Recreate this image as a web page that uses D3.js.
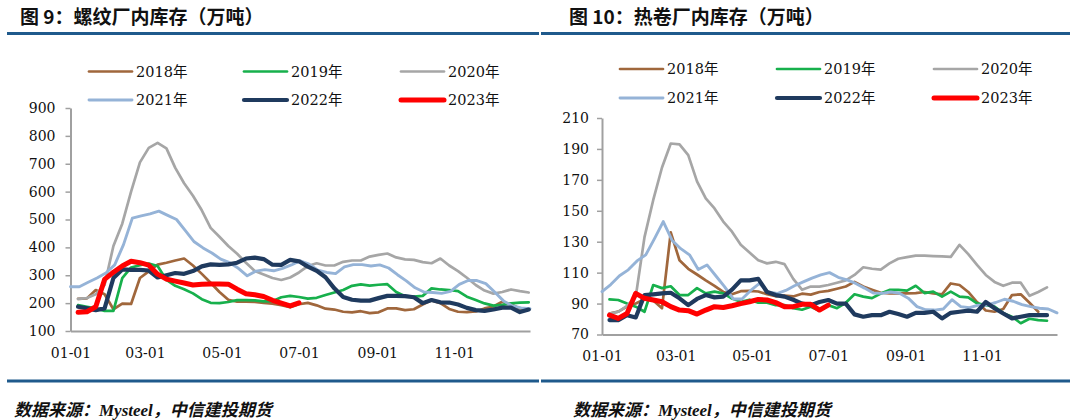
<!DOCTYPE html>
<html>
<head>
<meta charset="UTF-8">
<script src="https://d3js.org/d3.v7.min.js"></script>
<style>
  body { margin: 0; background: #fff; }
  svg { display: block; }
</style>
</head>
<body>
<div id="chart"></div>
<script>

// legend names and the first weekly reading of each year (month-day)
const years = ["2018年", "2019年", "2020年", "2021年", "2022年", "2023年"];
const firstDates = ["01-07", "01-07", "01-07", "01-01", "01-07", "01-07"];

// 螺纹 factory inventory, 万吨, weekly
const rebar2018 = [215, 217, 247, 232, 178, 198, 197, 290, 314, 338, 345, 353, 360, 335, 305, 273, 240, 212, 205, 205, 204, 201, 198, 193, 185,
  196, 201, 192, 180, 177, 169, 167, 171, 164, 167, 181, 181, 175, 178, 195, 210, 200, 179, 169, 168, 170, 181, 188, 205, 195, 181, 178];
const rebar2019 = [193, 187, 181, 172, 172, 290, 328, 336, 342, 333, 283, 262, 250, 235, 214, 201, 200, 204, 211, 211, 210, 206, 207, 221, 226,
  222, 216, 219, 229, 238, 247, 262, 267, 263, 266, 268, 240, 225, 223, 226, 253, 249, 247, 243, 223, 211, 199, 191, 194, 199, 202, 203];
const rebar2020 = [215, 218, 232, 265, 405, 485, 600, 705, 757, 775, 755, 685, 630, 585, 533, 470, 438, 405, 377, 345, 315, 303, 290, 283, 292,
  310, 333, 343, 335, 335, 348, 353, 353, 367, 373, 378, 364, 357, 355, 347, 343, 360, 335, 315, 291, 265, 245, 234, 240, 249, 243, 238];
const rebar2021 = [259, 259, 275, 290, 308, 337, 410, 505, 513, 520, 530, 515, 500, 460, 420, 398, 380, 358, 345, 325, 298, 315, 320, 316, 325, 337,
  352, 340, 318, 310, 306, 330, 338, 338, 333, 337, 326, 302, 280, 255, 240, 238, 235, 242, 267, 281, 281, 270, 240, 208, 190, 183, 180];
const rebar2022 = [187, 181, 175, 181, 290, 321, 319, 319, 317, 292, 300, 308, 305, 315, 332, 339, 337, 339, 345, 360, 363, 358, 338, 337, 355,
  350, 331, 316, 293, 253, 222, 212, 209, 209, 218, 226, 226, 225, 221, 200, 211, 203, 202, 195, 183, 175, 172, 177, 184, 184, 168, 177];
const rebar2023 = [167, 169, 187, 285, 311, 333, 350, 345, 336, 304, 286, 279, 272, 265, 268, 269, 269, 268, 250, 234, 230, 224, 210, 200, 190, 201];

// 热卷 factory inventory, 万吨, weekly
const hrc2018 = [83.6, 84.8, 88, 90, 92.8, 92, 87, 136, 118, 112.5, 108.8, 105, 101.5, 97.5, 96, 98, 98.2, 97.8, 96, 94.7, 95.2, 94.6, 96.4, 95.8, 97.5,
  98.2, 99.6, 101, 104, 101, 99, 97, 96.6, 96.6, 96.6, 96.8, 97.5, 96.6, 96, 103, 102, 97.5, 91, 85.5, 84.7, 86.5, 95.5, 96, 90.5, 84.7];
const hrc2019 = [92.7, 92.3, 90, 88, 84.7, 102, 100, 101.2, 95.5, 95.5, 100, 96.6, 97.7, 96.6, 93.3, 91.2, 92.5, 90.6, 90.6, 89, 89, 87, 86, 88, 85.4,
  89, 87, 90.5, 96, 94.5, 93.5, 96.5, 98.8, 98.8, 98.4, 101.5, 96.8, 97.7, 94.5, 97.7, 94.5, 94, 90.2, 89, 88, 83.8, 81.5, 77.3, 80.2, 79.3, 78.9];
const hrc2020 = [83.6, 84.7, 88.5, 94.5, 133, 157, 178, 193.5, 193, 186, 169, 158, 151.5, 143, 136.5, 128, 123, 118, 116, 117, 115.5, 106, 99, 101, 101,
  102, 103.5, 105, 108.5, 113.5, 112.5, 112, 116, 119, 120, 121, 121, 120.7, 120.5, 120.2, 128, 122, 115, 108.5, 104, 101.5, 103.5, 103.5, 95, 97.5, 100.5];
const hrc2021 = [97.7, 102.3, 108, 111.8, 117.6, 121.5, 132, 143, 131, 125.5, 121.5, 112, 115, 108, 101, 93, 93, 98.5, 103, 97.5, 96.5, 98.5, 101.5, 104, 106.5, 108.5,
  110, 107, 105.3, 103, 100, 96.8, 96.6, 97.5, 96.7, 93.5, 88, 86, 85.8, 86.5, 92.5, 88, 87.3, 89, 89, 90.7, 92.8, 91.5, 89.3, 88, 87, 86.5, 84];
const hrc2022 = [79.3, 79.3, 82.5, 81, 95.5, 96, 96.6, 97, 93.4, 89, 93, 95.5, 94, 94.5, 99, 105, 105, 106, 97.5, 95.5, 94.5, 92.5, 90, 89, 91,
  92.3, 90, 90, 83, 81.5, 82.5, 82.5, 84.7, 83.2, 81.5, 84, 84, 84.7, 80.4, 84, 84.7, 85.4, 84.7, 91, 87, 83.6, 80.4, 81.5, 82.5, 82.5, 82.5];
const hrc2023 = [82.5, 80.4, 83.6, 96.6, 93.4, 92.3, 91.2, 88, 85.8, 85.4, 83.2, 85.8, 88, 87.5, 88.6, 90, 91.2, 92.7, 92.3, 90.6, 88, 88, 89.5, 89.5, 85.8, 89];

const xTickLabels = ["01-01", "03-01", "05-01", "07-01", "09-01", "11-01"];
const rebarTicks = [100, 200, 300, 400, 500, 600, 700, 800, 900];
const hrcTicks = [70, 90, 110, 130, 150, 170, 190, 210];

const colors = ["#a0673c", "#17b04c", "#a6a6a6", "#95b3d7", "#1f3a5e", "#ff0000"];
const widths = [2.7, 2.7, 2.7, 2.9, 4.2, 5];

const numFont = "'DejaVu Serif', 'Noto Sans CJK SC', serif";
const parseMD = d3.timeParse("%m-%d");

const svg = d3.select("#chart").append("svg")
  .attr("width", 1080)
  .attr("height", 420);

function weekly(first, values) {
  const t0 = parseMD(first);
  return values.map((v, i) => ({ date: d3.timeDay.offset(t0, 7 * i), value: v }));
}

function panel(o) {
  const g = svg.append("g");

  // title and rules
  g.append("text")
    .attr("x", o.titleX).attr("y", 24)
    .attr("font-family", "'Noto Sans CJK SC', sans-serif")
    .attr("font-weight", "bold").attr("font-size", 19)
    .attr("fill", "#111")
    .text(o.title);
  g.append("line")
    .attr("x1", o.ruleX[0]).attr("x2", o.ruleX[1])
    .attr("y1", 33.5).attr("y2", 33.5)
    .attr("stroke", "#1f5a8c").attr("stroke-width", 3);
  g.append("line")
    .attr("x1", o.ruleX[0]).attr("x2", o.ruleX[1])
    .attr("y1", 381).attr("y2", 381)
    .attr("stroke", "#1f5a8c").attr("stroke-width", 3);
  g.append("text")
    .attr("x", o.srcX).attr("y", 416)
    .attr("font-family", "'Liberation Serif', 'Noto Sans CJK SC', serif")
    .attr("font-weight", "bold").attr("font-style", "italic").attr("font-size", 17)
    .attr("fill", "#111")
    .text("数据来源：Mysteel，中信建投期货");

  const x = d3.scaleTime()
    .domain([parseMD("01-01"), parseMD("12-31")])
    .range(o.xRange);
  const y = d3.scaleLinear()
    .domain(d3.extent(o.yTicks))
    .range(o.yRange);

  const yAxis = g.append("g")
    .attr("transform", `translate(${o.xRange[0]},0)`)
    .call(d3.axisLeft(y).tickValues(o.yTicks).tickSize(5).tickSizeOuter(0).tickPadding(o.yPad));
  const xAxis = g.append("g")
    .attr("transform", `translate(0,${o.yRange[0]})`)
    .call(d3.axisBottom(x).tickValues(xTickLabels.map(parseMD)).tickFormat(d3.timeFormat("%m-%d"))
      .tickSize(0).tickPadding(17));

  [yAxis, xAxis].forEach(a => {
    a.selectAll("path.domain").attr("stroke", "#a0a0a0").attr("stroke-width", 2);
    a.selectAll(".tick line").attr("stroke", "#a0a0a0").attr("stroke-width", 1.5);
    a.selectAll("text").attr("font-family", numFont).attr("font-size", 14).attr("fill", "#111");
  });

  const line = d3.line()
    .x(d => x(d.date))
    .y(d => y(d.value));

  o.series.forEach((vals, k) => {
    g.append("path")
      .datum(weekly(firstDates[k], vals))
      .attr("fill", "none")
      .attr("stroke", colors[k])
      .attr("stroke-width", widths[k])
      .attr("stroke-linejoin", "round")
      .attr("stroke-linecap", "round")
      .attr("d", line);
  });

  // legend, 3 per row
  years.forEach((name, k) => {
    const lx = o.legendCols[k % 3];
    const ly = o.legendRows[Math.floor(k / 3)];
    g.append("line")
      .attr("x1", lx).attr("x2", lx + 43)
      .attr("y1", ly).attr("y2", ly)
      .attr("stroke", colors[k])
      .attr("stroke-width", widths[k])
      .attr("stroke-linecap", "round");
    g.append("text")
      .attr("x", lx + 47).attr("y", ly)
      .attr("dy", "0.36em")
      .attr("font-family", numFont).attr("font-size", 14.5)
      .attr("fill", "#111")
      .text(name);
  });
}

panel({
  title: "图 9：螺纹厂内库存（万吨）",
  titleX: 20,
  ruleX: [7, 539],
  srcX: 14,
  xRange: [70.5, 530],
  yRange: [331, 108],
  yTicks: rebarTicks,
  yPad: 10,
  series: [rebar2018, rebar2019, rebar2020, rebar2021, rebar2022, rebar2023],
  legendCols: [89, 244, 401],
  legendRows: [71.5, 100]
});

panel({
  title: "图 10：热卷厂内库存（万吨）",
  titleX: 569,
  ruleX: [541, 1070],
  srcX: 573,
  xRange: [602, 1057],
  yRange: [334.5, 118],
  yTicks: hrcTicks,
  yPad: 8,
  series: [hrc2018, hrc2019, hrc2020, hrc2021, hrc2022, hrc2023],
  legendCols: [620, 777, 934],
  legendRows: [69, 98]
});

</script>
</body>
</html>
